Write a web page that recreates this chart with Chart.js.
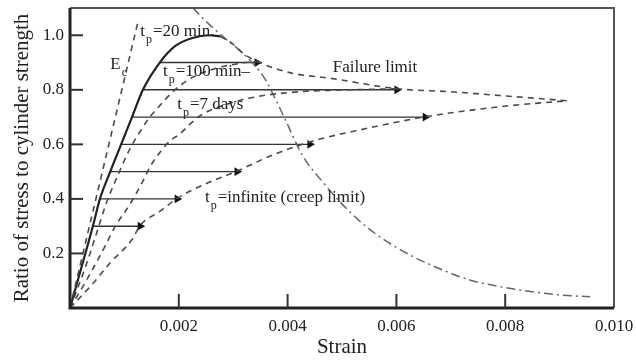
<!DOCTYPE html>
<html>
<head>
<meta charset="utf-8">
<script src="https://cdn.jsdelivr.net/npm/chart.js"></script>
<style>
  html, body { margin: 0; padding: 0; background: #fff; }
  #wrap { width: 636px; height: 360px; }
</style>
</head>
<body>
<div id="wrap"><canvas id="chart"></canvas></div>
<script>
// tick values
const xTicks = [0.002, 0.004, 0.006, 0.008, 0.010];
const yTicks = [0.2, 0.4, 0.6, 0.8, 1.0];

// initial tangent E_c
const ecStrain = [0, 0.00125];
const ecRatio = [0, 1.05];

// t_p = 20 min (solid loading curve)
const t20Strain = [0, 0.00042, 0.00055, 0.00074, 0.00094, 0.00114, 0.00134, 0.00165, 0.00193, 0.00225, 0.00255, 0.00276];
const t20Ratio = [0, 0.30, 0.40, 0.50, 0.60, 0.70, 0.80, 0.90, 0.96, 0.99, 1.00, 0.996];

// t_p = 100 min
const t100Strain = [0, 0.00028, 0.00048, 0.00066, 0.00088, 0.0011, 0.00132, 0.00147, 0.00165, 0.00189, 0.00221, 0.00267, 0.00313, 0.00344];
const t100Ratio = [0, 0.148, 0.269, 0.380, 0.487, 0.583, 0.657, 0.701, 0.742, 0.793, 0.841, 0.878, 0.897, 0.904];

// t_p = 7 days
const t7dStrain = [0, 0.00033, 0.00064, 0.00083, 0.0011, 0.00134, 0.00147, 0.0016, 0.00184, 0.00202, 0.00221, 0.00239, 0.00285, 0.00344, 0.00423, 0.00515, 0.00601];
const t7dRatio = [0, 0.111, 0.225, 0.299, 0.380, 0.465, 0.517, 0.557, 0.613, 0.638, 0.675, 0.705, 0.745, 0.775, 0.793, 0.800, 0.804];

// t_p = infinite (creep limit)
const tInfStrain = [0, 0.0004, 0.00074, 0.00114, 0.00129, 0.00165, 0.00197, 0.00248, 0.00307, 0.00368, 0.00441, 0.00542, 0.00653, 0.0079, 0.00914];
const tInfRatio = [0, 0.085, 0.166, 0.251, 0.303, 0.354, 0.402, 0.454, 0.502, 0.557, 0.609, 0.657, 0.701, 0.738, 0.760];

// failure limit
const failStrain = [0.00276, 0.00298, 0.00318, 0.00344, 0.00404, 0.00483, 0.00601, 0.00699, 0.0079, 0.00914];
const failRatio = [0.996, 0.970, 0.934, 0.904, 0.863, 0.841, 0.804, 0.793, 0.779, 0.760];

// descending branch (dash-dot)
const descStrain = [0.00226, 0.00248, 0.00276, 0.00322, 0.00358, 0.0038, 0.00395, 0.00428, 0.00465, 0.00506, 0.00551, 0.00607, 0.00662, 0.00735, 0.00827, 0.009, 0.00956];
const descRatio = [1.10, 1.055, 1.004, 0.926, 0.841, 0.756, 0.694, 0.557, 0.461, 0.369, 0.288, 0.214, 0.159, 0.103, 0.066, 0.048, 0.041];

// sustained load lines (creep under constant stress)
const creepLevel = [0.3, 0.4, 0.5, 0.6, 0.7, 0.8, 0.9];
const creepFrom = [0.00042, 0.00055, 0.00074, 0.00094, 0.00114, 0.00134, 0.00165];
const creepTo = [0.00129, 0.00197, 0.00307, 0.00441, 0.00653, 0.00601, 0.00344];

// text notes on the plot (data coords)
const notes = [
  { x: 0.00074, y: 0.875, main: 'E', sub: 'c', rest: '' },
  { x: 0.00129, y: 0.996, main: 't', sub: 'p', rest: '=20 min.' },
  { x: 0.00171, y: 0.852, main: 't', sub: 'p', rest: '=100 min\u2013' },
  { x: 0.00197, y: 0.731, main: 't', sub: 'p', rest: '=7 days' },
  { x: 0.00248, y: 0.387, main: 't', sub: 'p', rest: '=infinite (creep limit)' },
  { x: 0.00483, y: 0.867, main: 'Failure limit', sub: '', rest: '' }
];

const SERIF = '"Liberation Serif", "DejaVu Serif", serif';
const zip = (xs, ys) => xs.map((x, i) => ({ x: x, y: ys[i] }));

function curve(xs, ys, opts) {
  return Object.assign({
    data: zip(xs, ys),
    borderColor: '#4a4a4a',
    borderWidth: 1.6,
    borderDash: [6, 5],
    pointRadius: 0,
    fill: false,
    cubicInterpolationMode: 'monotone'
  }, opts || {});
}

const datasets = [
  curve(ecStrain, ecRatio, { tension: 0 }),
  curve(t20Strain, t20Ratio, { borderColor: '#222', borderWidth: 2.2, borderDash: [] }),
  curve(t100Strain, t100Ratio),
  curve(t7dStrain, t7dRatio),
  curve(tInfStrain, tInfRatio),
  curve(failStrain, failRatio),
  curve(descStrain, descRatio, { borderColor: '#666', borderDash: [9, 4, 2, 4], borderWidth: 1.5 })
];

creepLevel.forEach((lvl, i) => {
  datasets.push({
    data: [{ x: creepFrom[i], y: lvl }, { x: creepTo[i], y: lvl }],
    borderColor: '#333',
    borderWidth: 1.4,
    pointRadius: [0, 5],
    pointStyle: 'triangle',
    rotation: 90,
    pointBackgroundColor: '#111',
    pointBorderColor: '#111',
    pointBorderWidth: 0,
    fill: false
  });
});

const decorPlugin = {
  id: 'decor',
  afterDatasetsDraw(chart) {
    const ctx = chart.ctx;
    const a = chart.chartArea;
    const xs = chart.scales.x, ys = chart.scales.y;
    ctx.save();
    // frame
    ctx.strokeStyle = '#555';
    ctx.lineWidth = 2;
    ctx.beginPath();
    ctx.moveTo(a.left, a.top); ctx.lineTo(a.right, a.top); ctx.lineTo(a.right, a.bottom);
    ctx.stroke();
    ctx.strokeStyle = '#222';
    ctx.lineWidth = 3;
    ctx.beginPath();
    ctx.moveTo(a.left, a.top); ctx.lineTo(a.left, a.bottom); ctx.lineTo(a.right, a.bottom);
    ctx.stroke();
    // inward ticks
    ctx.lineWidth = 2;
    ctx.strokeStyle = '#333';
    xTicks.forEach(v => {
      if (v >= 0.0099) return;
      const px = xs.getPixelForValue(v);
      ctx.beginPath(); ctx.moveTo(px, a.bottom); ctx.lineTo(px, a.bottom - 14); ctx.stroke();
    });
    yTicks.forEach(v => {
      const py = ys.getPixelForValue(v);
      ctx.beginPath(); ctx.moveTo(a.left, py); ctx.lineTo(a.left + 13, py); ctx.stroke();
    });
    // notes
    ctx.fillStyle = '#222';
    ctx.textBaseline = 'alphabetic';
    ctx.textAlign = 'left';
    notes.forEach(n => {
      let px = xs.getPixelForValue(n.x);
      const py = ys.getPixelForValue(n.y);
      ctx.font = '17px ' + SERIF;
      ctx.fillText(n.main, px, py);
      px += ctx.measureText(n.main).width + 1;
      if (n.sub) {
        ctx.font = '12px ' + SERIF;
        ctx.fillText(n.sub, px, py + 7);
        px += ctx.measureText(n.sub).width + 1;
      }
      if (n.rest) {
        ctx.font = '17px ' + SERIF;
        ctx.fillText(n.rest, px, py);
      }
    });
    ctx.restore();
  }
};

new Chart(document.getElementById('chart'), {
  type: 'line',
  data: { datasets: datasets },
  options: {
    responsive: true,
    maintainAspectRatio: false,
    animation: false,
    layout: { padding: { top: 8, right: 22, left: 0, bottom: 0 } },
    plugins: { legend: { display: false }, tooltip: { enabled: false } },
    scales: {
      x: {
        type: 'linear',
        min: 0,
        max: 0.010,
        afterBuildTicks: s => { s.ticks = xTicks.map(v => ({ value: v })); },
        afterFit: s => { s.height = 52; s.paddingLeft = 0; s.paddingRight = 0; },
        grid: { display: false, drawTicks: false },
        border: { display: false },
        ticks: {
          padding: 8,
          color: '#222',
          font: { family: SERIF, size: 17 },
          maxRotation: 0,
          callback: v => v.toFixed(3)
        },
        title: {
          display: true,
          text: 'Strain',
          color: '#222',
          font: { family: SERIF, size: 21 },
          padding: { top: 0, bottom: 0 }
        }
      },
      y: {
        type: 'linear',
        min: 0,
        max: 1.1,
        afterBuildTicks: s => { s.ticks = yTicks.map(v => ({ value: v })); },
        afterFit: s => { s.width = 70; s.paddingTop = 0; s.paddingBottom = 0; },
        grid: { display: false, drawTicks: false },
        border: { display: false },
        ticks: {
          padding: 6,
          color: '#222',
          font: { family: SERIF, size: 17 },
          callback: v => v.toFixed(1)
        },
        title: {
          display: true,
          text: 'Ratio of stress to cylinder strength',
          color: '#222',
          font: { family: SERIF, size: 21 },
          padding: { top: 10, bottom: 0 }
        }
      }
    }
  },
  plugins: [decorPlugin]
});
</script>
</body>
</html>
